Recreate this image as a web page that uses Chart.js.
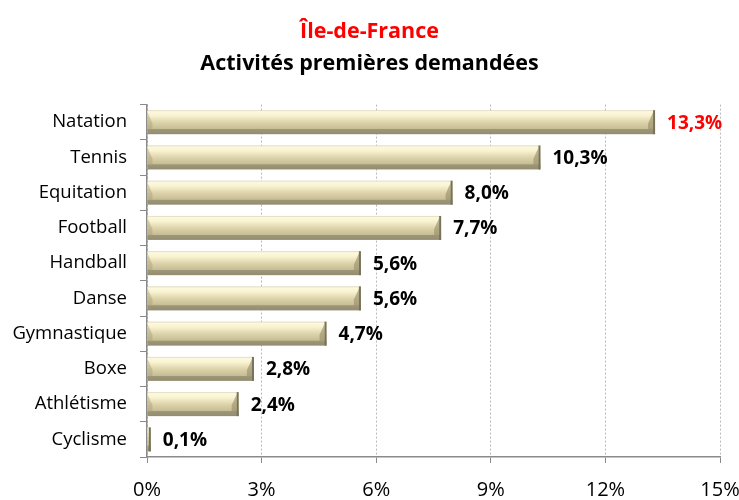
<!DOCTYPE html>
<html>
<head>
<meta charset="utf-8">
<script src="https://cdn.jsdelivr.net/npm/chart.js@4/dist/chart.umd.min.js"></script>
<style>
  html, body { margin: 0; padding: 0; background: #fff; }
  #wrap { width: 739px; height: 500px; }
</style>
</head>
<body>
<div id="wrap"><canvas id="c" width="739" height="500"></canvas></div>
<script>
// données
const activites = ['Natation', 'Tennis', 'Equitation', 'Football', 'Handball', 'Danse', 'Gymnastique', 'Boxe', 'Athlétisme', 'Cyclisme'];
const parts = [13.3, 10.3, 8.0, 7.7, 5.6, 5.6, 4.7, 2.8, 2.4, 0.1];
const xTicks = [0, 3, 6, 9, 12, 15];

const FONT = '"Open Sans", Lato, sans-serif';
const fmt = v => v.toFixed(1).replace('.', ',') + '%';

// barres façon "biseau" Excel + étiquettes de valeurs
const bevelBars = {
    id: 'bevelBars',
    afterDatasetsDraw(chart) {
        const ctx = chart.ctx;
        const meta = chart.getDatasetMeta(0);
        meta.data.forEach((bar, i) => {
            const { x, y, base, height } = bar.getProps(['x', 'y', 'base', 'height'], true);
            const top = y - height / 2, w = x - base;
            const g = ctx.createLinearGradient(0, top, 0, top + height);
            g.addColorStop(0, '#d9d3b4');
            g.addColorStop(0.06, '#fdf9df');
            g.addColorStop(0.22, '#f9f3d0');
            g.addColorStop(0.5, '#ddd4ac');
            g.addColorStop(0.78, '#c6bd94');
            g.addColorStop(0.8, '#9d9678');
            g.addColorStop(1, '#938c6f');
            ctx.save();
            ctx.fillStyle = g;
            ctx.fillRect(base, top, w, height);
            if (w > 8) {
                // petit biseau à gauche
                ctx.fillStyle = 'rgba(170,160,120,0.45)';
                ctx.beginPath();
                ctx.moveTo(base, top + 2);
                ctx.lineTo(base + 5, top + height * 0.55);
                ctx.lineTo(base + 5, top + height * 0.8);
                ctx.lineTo(base, top + height * 0.8);
                ctx.closePath();
                ctx.fill();
                // biseau à droite
                ctx.fillStyle = 'rgba(150,140,105,0.6)';
                ctx.beginPath();
                ctx.moveTo(x - 2, top + 2);
                ctx.lineTo(x - 7, top + height * 0.55);
                ctx.lineTo(x - 7, top + height * 0.8);
                ctx.lineTo(x - 2, top + height * 0.8);
                ctx.closePath();
                ctx.fill();
            }
            ctx.fillStyle = '#77725b';
            ctx.fillRect(x - 2, top, 2, height);
            // étiquette
            ctx.font = 'bold 19px ' + FONT;
            ctx.fillStyle = i === 0 ? '#ff0000' : '#000';
            ctx.textBaseline = 'middle';
            ctx.textAlign = 'left';
            ctx.fillText(fmt(parts[i]), x + 12, y + 1);
            ctx.restore();
        });
    }
};

new Chart(document.getElementById('c'), {
    type: 'bar',
    data: {
        labels: activites,
        datasets: [{
            data: parts,
            backgroundColor: 'rgba(0,0,0,0)',
            barPercentage: 0.68,
            categoryPercentage: 1
        }]
    },
    options: {
        indexAxis: 'y',
        responsive: false,
        animation: false,
        layout: { padding: 0 },
        plugins: {
            legend: { display: false },
            tooltip: { enabled: false },
            title: {
                display: true,
                text: 'Île-de-France',
                color: '#ff0000',
                font: { family: FONT, size: 21.5, weight: 'bold' },
                padding: { top: 19, bottom: 6 }
            },
            subtitle: {
                display: true,
                text: 'Activités premières demandées',
                color: '#000',
                font: { family: FONT, size: 21.5, weight: 'bold' },
                padding: { top: 0, bottom: 28 }
            }
        },
        scales: {
            x: {
                min: 0, max: 15,
                afterBuildTicks: axis => { axis.ticks = xTicks.map(v => ({ value: v })); },
                afterFit: axis => { axis.height = 43; axis.paddingRight = 19; },
                ticks: {
                    color: '#000',
                    font: { family: FONT, size: 20 },
                    padding: 15,
                    callback: v => v + '%'
                },
                grid: {
                    color: '#b8b8b8',
                    tickColor: '#8a8a8a',
                    tickBorderDash: [],
                    tickLength: 6
                },
                border: { color: '#8a8a8a', width: 1.5, dash: [2, 2] }
            },
            y: {
                afterFit: axis => { axis.width = 147; },
                ticks: {
                    color: '#000',
                    font: { family: FONT, size: 18.5 },
                    padding: 13
                },
                grid: {
                    drawOnChartArea: false,
                    offset: true,
                    tickColor: '#8a8a8a',
                    tickLength: 7
                },
                border: { color: '#8a8a8a', width: 1.5 }
            }
        }
    },
    plugins: [bevelBars]
});
</script>
</body>
</html>
